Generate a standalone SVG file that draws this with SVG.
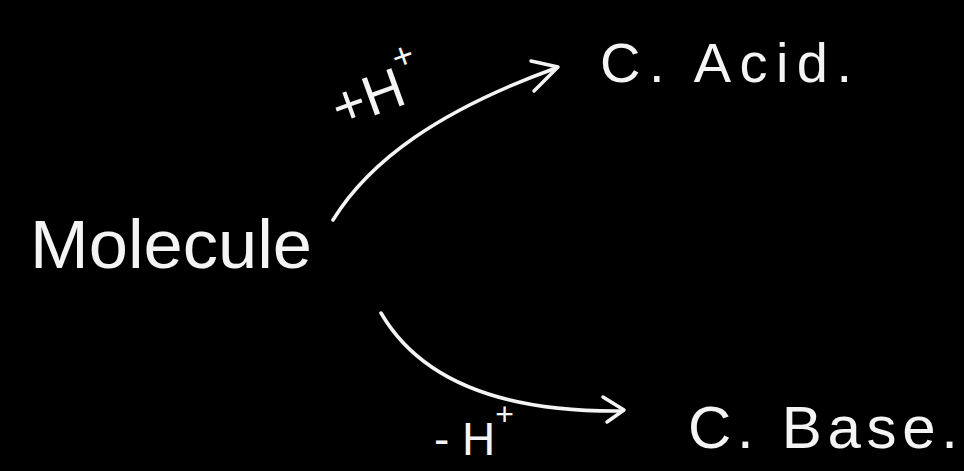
<svg xmlns="http://www.w3.org/2000/svg" width="964" height="471" viewBox="0 0 964 471">
<style>
.t{fill:#f4f4f4;font-family:"Liberation Sans","DejaVu Sans",sans-serif;}
.c{fill:none;stroke:#f4f4f4;stroke-width:3.5;stroke-linecap:round;stroke-linejoin:round;}
</style>
<rect width="964" height="471" fill="#000"/>
<g id="molecule"><text class="t" x="30" y="268" font-size="68" textLength="282" lengthAdjust="spacingAndGlyphs">Molecule</text></g>
<g id="acid"><text class="t" x="600" y="82" font-size="56" textLength="252" lengthAdjust="spacing">C. Acid.</text></g>
<g id="base"><text class="t" x="688" y="448" font-size="60" textLength="270" lengthAdjust="spacing">C. Base.</text></g>
<g id="connectors">
<path class="c" d="M333,220 C370,160 440,110 556,68"/>
<path class="c" d="M531,61 L558,67 L534,91"/>
<path class="c" d="M381,313 C420,380 500,412 620,411"/>
<path class="c" d="M603,397 L624,410 L607,422"/>
<text class="t" x="340" y="128" font-size="56" transform="rotate(-20 340 128)">+H<tspan font-size="36" dy="-34">+</tspan></text>
<text class="t" x="434" y="455" font-size="46">- H<tspan font-size="32" dy="-30">+</tspan></text>
</g>
</svg>
